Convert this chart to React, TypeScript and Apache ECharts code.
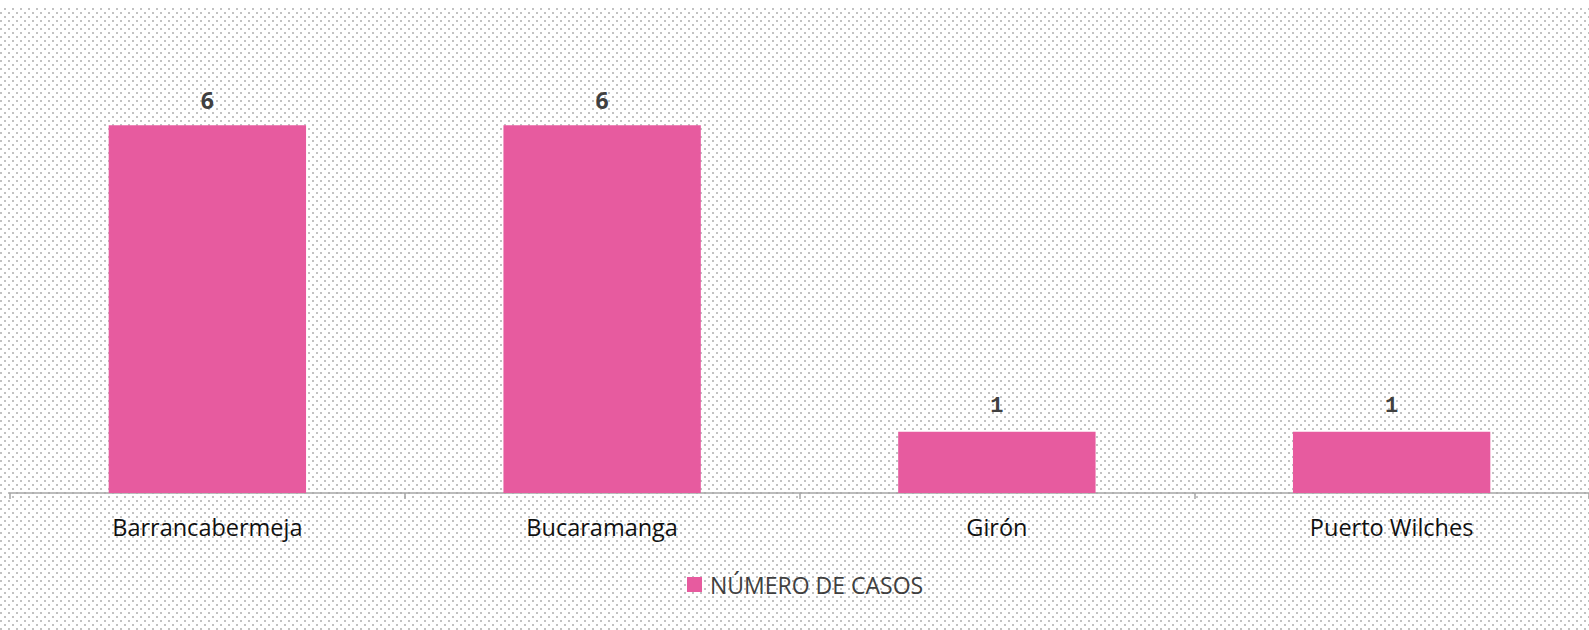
import React, { useEffect, useRef } from "react";
import * as echarts from "echarts";

const categories = ["Barrancabermeja", "Bucaramanga", "Girón", "Puerto Wilches"];
const casos = [6, 6, 1, 1];
const seriesName = "NÚMERO DE CASOS";

const dotTile =
  "url(\"data:image/svg+xml;utf8," +
  encodeURIComponent(
    "<svg xmlns='http://www.w3.org/2000/svg' width='8' height='8'><rect x='4' y='0' width='2' height='2' fill='#c2c2c2'/><rect x='0' y='4' width='2' height='2' fill='#c2c2c2'/></svg>"
  ) +
  "\")";

export default function App() {
  const ref = useRef<HTMLDivElement>(null);
  useEffect(() => {
    const chart = echarts.init(ref.current!, null, { renderer: "svg" });
    const sansLabel = {
      show: true,
      position: "top",
      distance: 14,
      fontFamily: "Open Sans",
      fontWeight: "bold",
      fontSize: 23,
      color: "#404040",
    };
    const monoLabel = {
      show: true,
      position: "top",
      distance: 14,
      fontFamily: "Liberation Mono",
      fontWeight: "bold",
      fontSize: 22,
      color: "#404040",
    };
    chart.setOption({
      animation: false,
      backgroundColor: "transparent",
      grid: { left: 10, right: 0, top: 56, bottom: 137, containLabel: false },
      legend: {
        show: true,
        left: 682,
        top: 560,
        icon: "rect",
        itemWidth: 15,
        itemHeight: 15,
        textStyle: {
          fontFamily: "Open Sans",
          fontSize: 23,
          color: "#404040",
          padding: [0, 0, 0, 3],
        },
        data: [seriesName],
      },
      xAxis: {
        type: "category",
        data: categories,
        axisLine: { show: true, lineStyle: { color: "#a6a6a6", width: 1.5 } },
        axisTick: { show: true, length: 6, lineStyle: { color: "#a6a6a6", width: 1.5 } },
        axisLabel: {
          fontFamily: "Open Sans",
          fontSize: 23.5,
          color: "#111111",
          margin: 22,
        },
      },
      yAxis: { type: "value", min: 0, max: 7, show: false },
      series: [
        {
          name: seriesName,
          type: "bar",
          barCategoryGap: "50%",
          itemStyle: { color: "#E75B9F" },
          data: casos.map((v, i) => ({
            value: v,
            label: i < 2 ? sansLabel : monoLabel,
          })),
        },
      ],
    });
    return () => chart.dispose();
  }, []);
  return (
    <div
      ref={ref}
      style={{
        position: "absolute",
        left: 0,
        top: 8,
        width: 1589,
        height: 622,
        backgroundImage: dotTile,
        backgroundRepeat: "repeat",
      }}
    />
  );
}
